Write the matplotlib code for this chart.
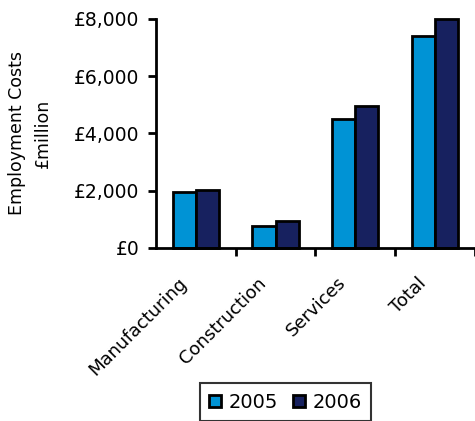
import numpy as np
import matplotlib.pyplot as plt
from matplotlib.ticker import FuncFormatter

categories = ['Manufacturing', 'Construction', 'Services', 'Total']
costs_2005 = [1960, 780, 4500, 7420]
costs_2006 = [2010, 930, 4960, 8000]

plt.rcParams.update({'font.family': 'DejaVu Sans', 'font.size': 13})
fig = plt.figure(figsize=(4.75, 4.21), dpi=100)
ax = fig.add_axes([0.328, 0.411, 0.672, 0.544])

x = np.arange(len(categories))
w = 0.29
ax.bar(x - w / 2, costs_2005, w, color='#0093D5', edgecolor='black', linewidth=2, label='2005', clip_on=False)
ax.bar(x + w / 2, costs_2006, w, color='#17215F', edgecolor='black', linewidth=2, label='2006', clip_on=False)

ax.set_xlim(-0.5, len(categories) - 0.5)
ax.set_ylim(0, 8000)
ax.set_yticks([0, 2000, 4000, 6000, 8000])
ax.yaxis.set_major_formatter(FuncFormatter(lambda v, p: '£{:,.0f}'.format(v)))

# category labels: end a little down-left of the category centre, like the original
ax.set_xticks(x)
ax.set_xticklabels([])
for i, cat in enumerate(categories):
    ax.annotate(cat, xy=(i, 0), xycoords=('data', 'axes fraction'), xytext=(-13, -18.5),
                textcoords='offset points', rotation=45, ha='right', va='top',
                rotation_mode='anchor', fontsize=13)
ax.set_xticks(np.arange(len(categories)) + 0.5, minor=True)
ax.tick_params(axis='x', which='major', length=0)
ax.tick_params(axis='x', which='minor', length=6, width=2, direction='out')
ax.tick_params(axis='y', length=6, width=2, direction='out', pad=6, labelsize=13.5)

for s in ['top', 'right']:
    ax.spines[s].set_visible(False)
for s in ['left', 'bottom']:
    ax.spines[s].set_linewidth(2)

ax.set_ylabel('Employment Costs\n£million', fontsize=12.5, linespacing=1.6)
ax.yaxis.set_label_coords(-0.325, 0.5)

leg = fig.legend(loc='upper center', bbox_to_anchor=(0.601, 0.0903), ncol=2, frameon=True,
                 fancybox=False, edgecolor='black', fontsize=14, handlelength=0.62,
                 handleheight=0.62, handletextpad=0.36, columnspacing=0.8, borderpad=0.5,
                 borderaxespad=0)
leg.get_frame().set_linewidth(1.5)

fig.savefig('out.png', dpi=100)
